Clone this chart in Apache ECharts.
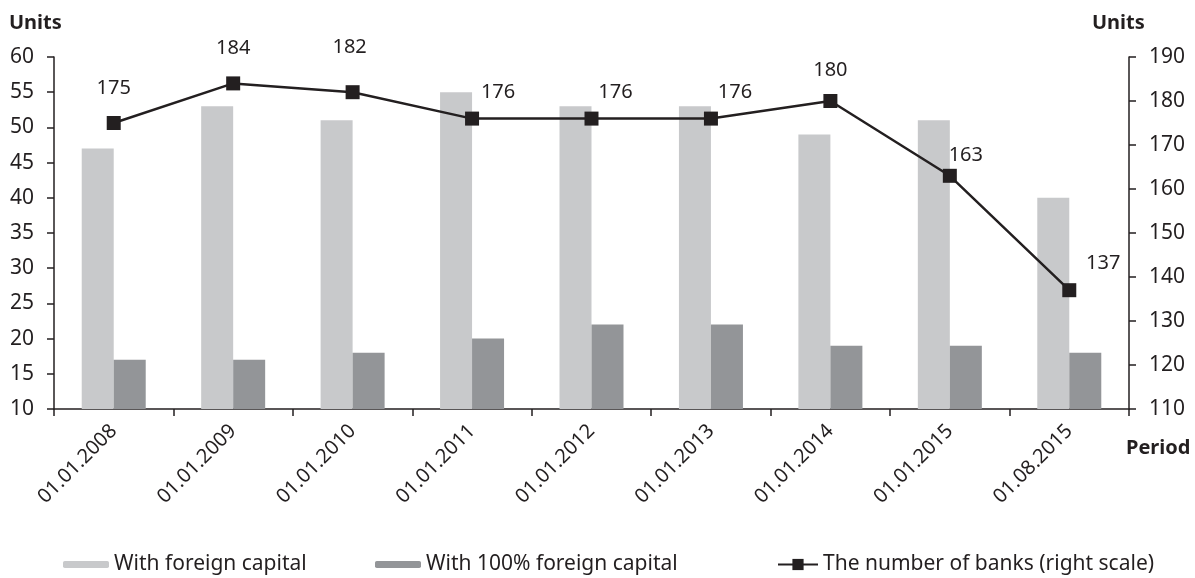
<!DOCTYPE html>
<html>
<head>
<meta charset="utf-8">
<script src="https://cdn.jsdelivr.net/npm/echarts@6/dist/echarts.min.js"></script>
<style>
html,body{margin:0;padding:0;background:#fff;}
#c{width:1195px;height:578px;}
</style>
</head>
<body>
<div id="c"></div>
<script>
const categories = ['01.01.2008','01.01.2009','01.01.2010','01.01.2011','01.01.2012','01.01.2013','01.01.2014','01.01.2015','01.08.2015'];
const foreignCapital = [47, 53, 51, 55, 53, 53, 49, 51, 40];
const fullForeignCapital = [17, 17, 18, 20, 22, 22, 19, 19, 18];
const numberOfBanks = [175, 184, 182, 176, 176, 176, 180, 163, 137];
const leftTicks = {min: 10, max: 60, interval: 5};
const rightTicks = {min: 110, max: 190, interval: 10};
const labelOffsets = [[0,-35],[0,-35],[-3,-45],[26,-26],[24,-26],[24,-26],[0,-31],[16,-21],[34,-27]];

const FONT = 'Noto Sans';
const TXT = '#231f20';
const chart = echarts.init(document.getElementById('c'), null, {renderer: 'canvas'});

const lineData = numberOfBanks.map((v, i) => ({
  value: v,
  label: {offset: labelOffsets[i]}
}));

const axisLine = {show: true, lineStyle: {color: TXT, width: 1.5}};
const legendText = {fontSize: 21, color: TXT, fontFamily: FONT};
chart.setOption({
  animation: false,
  backgroundColor: '#fff',
  textStyle: {fontFamily: FONT, color: TXT},
  grid: {left: 54, right: 66, top: 57, bottom: 169, containLabel: false},
  legend: [
    {data: ['With foreign capital'], left: 58, top: 549, itemWidth: 46, itemHeight: 7, textStyle: legendText},
    {data: ['With 100% foreign capital'], left: 370, top: 549, itemWidth: 46, itemHeight: 7, textStyle: legendText},
    {data: ['The number of banks (right scale)'], left: 772, top: 549, itemWidth: 40, itemHeight: 14, textStyle: legendText}
  ],
  xAxis: {
    type: 'category',
    data: categories,
    boundaryGap: true,
    axisLine: axisLine,
    axisTick: {show: true, length: 7, lineStyle: {color: TXT, width: 1.5}},
    axisLabel: {rotate: 45, fontSize: 20, color: TXT, fontFamily: FONT, margin: 19}
  },
  yAxis: [
    {type: 'value', min: leftTicks.min, max: leftTicks.max, interval: leftTicks.interval,
     position: 'left', splitLine: {show: false},
     axisLine: axisLine,
     axisTick: {show: true, length: 7, lineStyle: {color: TXT, width: 1.5}},
     axisLabel: {fontSize: 21, color: TXT, fontFamily: FONT, margin: 20}},
    {type: 'value', min: rightTicks.min, max: rightTicks.max, interval: rightTicks.interval,
     position: 'right', splitLine: {show: false},
     axisLine: axisLine,
     axisTick: {show: true, length: 7, lineStyle: {color: TXT, width: 1.5}},
     axisLabel: {fontSize: 21, color: TXT, fontFamily: FONT, margin: 20}}
  ],
  series: [
    {name: 'With foreign capital', type: 'bar', data: foreignCapital, yAxisIndex: 0,
     barWidth: 32, barGap: '0%', itemStyle: {color: '#c8c9cb'}},
    {name: 'With 100% foreign capital', type: 'bar', data: fullForeignCapital, yAxisIndex: 0,
     barWidth: 32, barGap: '0%', itemStyle: {color: '#939598'}},
    {name: 'The number of banks (right scale)', type: 'line', data: lineData, yAxisIndex: 1,
     symbol: 'rect', symbolSize: 14, z: 5,
     lineStyle: {color: TXT, width: 2.5}, itemStyle: {color: TXT},
     label: {show: true, position: 'inside', fontSize: 20, color: TXT, fontFamily: FONT}}
  ],
  graphic: [
    {type: 'text', left: 9, top: 13, style: {text: 'Units', font: 'bold 20px "Noto Sans"', fill: TXT}},
    {type: 'text', left: 1092, top: 13, style: {text: 'Units', font: 'bold 20px "Noto Sans"', fill: TXT}},
    {type: 'text', left: 1126, top: 438, style: {text: 'Period', font: 'bold 20px "Noto Sans"', fill: TXT}}
  ]
});
</script>
</body>
</html>
